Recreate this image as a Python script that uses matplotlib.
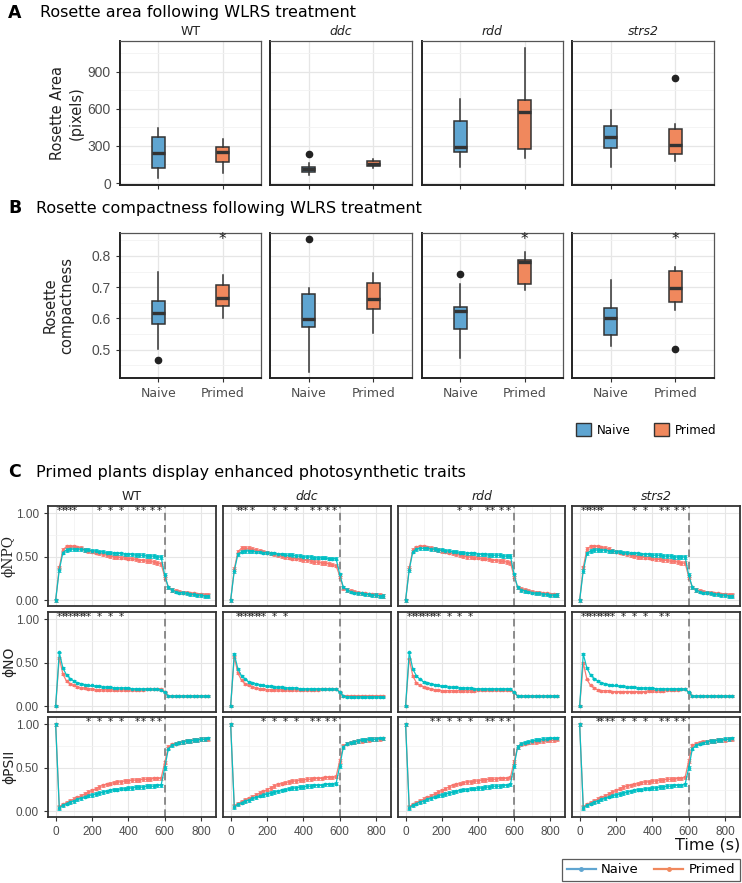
import matplotlib
matplotlib.use("Agg")
import matplotlib.pyplot as plt
from matplotlib.patches import Patch
from matplotlib.lines import Line2D
from matplotlib.ticker import FixedLocator

# ---------------- DATA ----------------
genotypes = ["WT", "ddc", "rdd", "strs2"]
treatments = ["Naive", "Primed"]

# Panel A: rosette area (pixels) box statistics
area_naive_whislo = [40, 65, 130, 130]
area_naive_q1 = [122, 89, 251, 284]
area_naive_med = [243, 113, 292, 373]
area_naive_q3 = [373, 130, 503, 462]
area_naive_whishi = [446, 162, 681, 592]
area_naive_out = [[], [235], [], []]
area_primed_whislo = [81, 122, 203, 178]
area_primed_q1 = [170, 135, 276, 235]
area_primed_med = [251, 155, 576, 308]
area_primed_q3 = [292, 175, 673, 438]
area_primed_whishi = [357, 195, 1095, 478]
area_primed_out = [[], [], [], [851]]

# Panel B: rosette compactness box statistics
comp_naive_whislo = [0.503, 0.430, 0.475, 0.513]
comp_naive_q1 = [0.582, 0.572, 0.566, 0.547]
comp_naive_med = [0.616, 0.597, 0.625, 0.603]
comp_naive_q3 = [0.656, 0.678, 0.638, 0.635]
comp_naive_whishi = [0.749, 0.696, 0.709, 0.722]
comp_naive_out = [[0.466], [0.853], [0.742], []]
comp_primed_whislo = [0.600, 0.553, 0.691, 0.627]
comp_primed_q1 = [0.641, 0.630, 0.709, 0.653]
comp_primed_med = [0.664, 0.662, 0.779, 0.696]
comp_primed_q3 = [0.706, 0.712, 0.786, 0.751]
comp_primed_whishi = [0.738, 0.744, 0.811, 0.763]
comp_primed_out = [[], [], [], [0.503]]
comp_signif = [True, False, True, True]

# Panel C: time courses
time_s = [0, 20, 40, 60, 80, 100, 120, 140, 160, 180, 200, 220, 240, 260, 280,
          300, 320, 340, 360, 380, 400, 420, 440, 460, 480, 500, 520, 540, 560, 580,
          600, 620, 640, 660, 680, 700, 720, 740, 760, 780, 800, 820, 840]

npq_wt_naive = [0.00, 0.35, 0.55, 0.58, 0.59, 0.59, 0.59, 0.59, 0.58, 0.58, 0.57, 0.57, 0.56, 0.56, 0.55,
                0.55, 0.54, 0.54, 0.54, 0.53, 0.53, 0.53, 0.52, 0.52, 0.52, 0.51, 0.51, 0.51, 0.50, 0.50,
                0.29, 0.15, 0.12, 0.10, 0.09, 0.09, 0.08, 0.07, 0.07, 0.06, 0.06, 0.05, 0.05]
npq_wt_primed = [0.00, 0.38, 0.58, 0.62, 0.62, 0.62, 0.61, 0.60, 0.58, 0.57, 0.56, 0.55, 0.54, 0.53, 0.52,
                 0.51, 0.50, 0.50, 0.49, 0.49, 0.48, 0.48, 0.47, 0.46, 0.46, 0.45, 0.45, 0.44, 0.43, 0.42,
                 0.27, 0.15, 0.12, 0.11, 0.10, 0.09, 0.09, 0.08, 0.08, 0.07, 0.07, 0.06, 0.06]
npq_ddc_naive = [0.00, 0.34, 0.53, 0.56, 0.57, 0.57, 0.57, 0.56, 0.56, 0.55, 0.55, 0.54, 0.54, 0.53, 0.53,
                 0.52, 0.52, 0.52, 0.51, 0.51, 0.50, 0.50, 0.50, 0.49, 0.49, 0.49, 0.49, 0.48, 0.48, 0.48,
                 0.30, 0.15, 0.12, 0.10, 0.09, 0.08, 0.08, 0.07, 0.07, 0.06, 0.06, 0.05, 0.05]
npq_ddc_primed = [0.00, 0.36, 0.56, 0.60, 0.60, 0.60, 0.59, 0.58, 0.57, 0.56, 0.55, 0.54, 0.53, 0.52, 0.51,
                  0.50, 0.49, 0.48, 0.48, 0.47, 0.46, 0.46, 0.45, 0.44, 0.44, 0.43, 0.43, 0.42, 0.41, 0.40,
                  0.28, 0.14, 0.12, 0.11, 0.10, 0.09, 0.08, 0.08, 0.07, 0.07, 0.06, 0.06, 0.05]
npq_rdd_naive = [0.00, 0.35, 0.56, 0.59, 0.60, 0.60, 0.60, 0.59, 0.59, 0.58, 0.58, 0.57, 0.57, 0.56, 0.56,
                 0.55, 0.55, 0.54, 0.54, 0.54, 0.53, 0.53, 0.53, 0.52, 0.52, 0.52, 0.52, 0.51, 0.51, 0.51,
                 0.30, 0.15, 0.12, 0.11, 0.10, 0.09, 0.08, 0.08, 0.07, 0.07, 0.06, 0.06, 0.06]
npq_rdd_primed = [0.00, 0.37, 0.58, 0.61, 0.62, 0.62, 0.61, 0.60, 0.59, 0.58, 0.57, 0.56, 0.55, 0.54, 0.53,
                  0.52, 0.51, 0.50, 0.50, 0.49, 0.49, 0.48, 0.48, 0.47, 0.46, 0.46, 0.45, 0.45, 0.44, 0.43,
                  0.28, 0.15, 0.13, 0.12, 0.11, 0.10, 0.09, 0.09, 0.08, 0.08, 0.07, 0.07, 0.06]
npq_strs2_naive = [0.00, 0.34, 0.54, 0.57, 0.58, 0.58, 0.58, 0.58, 0.57, 0.57, 0.56, 0.56, 0.55, 0.55, 0.54,
                   0.54, 0.54, 0.53, 0.53, 0.53, 0.52, 0.52, 0.52, 0.51, 0.51, 0.51, 0.50, 0.50, 0.50, 0.50,
                   0.29, 0.15, 0.12, 0.10, 0.09, 0.09, 0.08, 0.07, 0.07, 0.06, 0.06, 0.05, 0.05]
npq_strs2_primed = [0.00, 0.38, 0.59, 0.62, 0.62, 0.62, 0.61, 0.60, 0.59, 0.57, 0.56, 0.55, 0.54, 0.53, 0.52,
                    0.51, 0.50, 0.50, 0.49, 0.49, 0.48, 0.47, 0.47, 0.46, 0.46, 0.45, 0.45, 0.44, 0.43, 0.43,
                    0.27, 0.15, 0.12, 0.11, 0.10, 0.09, 0.09, 0.08, 0.08, 0.07, 0.07, 0.06, 0.06]

no_wt_naive = [0.00, 0.62, 0.44, 0.36, 0.32, 0.29, 0.27, 0.26, 0.25, 0.24, 0.24, 0.23, 0.23, 0.22, 0.22,
               0.22, 0.21, 0.21, 0.21, 0.21, 0.21, 0.20, 0.20, 0.20, 0.20, 0.20, 0.20, 0.20, 0.20, 0.19,
               0.16, 0.12, 0.12, 0.12, 0.12, 0.12, 0.12, 0.12, 0.12, 0.12, 0.12, 0.12, 0.12]
no_wt_primed = [0.00, 0.56, 0.37, 0.29, 0.26, 0.24, 0.22, 0.21, 0.21, 0.20, 0.20, 0.19, 0.19, 0.19, 0.19,
                0.19, 0.19, 0.19, 0.19, 0.19, 0.19, 0.19, 0.19, 0.19, 0.19, 0.20, 0.20, 0.20, 0.20, 0.20,
                0.17, 0.12, 0.12, 0.12, 0.12, 0.12, 0.12, 0.12, 0.12, 0.12, 0.12, 0.12, 0.12]
no_ddc_naive = [0.00, 0.60, 0.43, 0.35, 0.31, 0.28, 0.27, 0.26, 0.25, 0.24, 0.23, 0.23, 0.22, 0.22, 0.22,
                0.21, 0.21, 0.21, 0.21, 0.20, 0.20, 0.20, 0.20, 0.20, 0.20, 0.20, 0.20, 0.20, 0.20, 0.20,
                0.16, 0.12, 0.11, 0.11, 0.11, 0.11, 0.11, 0.11, 0.11, 0.11, 0.11, 0.11, 0.11]
no_ddc_primed = [0.00, 0.57, 0.38, 0.30, 0.26, 0.24, 0.22, 0.21, 0.20, 0.20, 0.19, 0.19, 0.19, 0.19, 0.19,
                 0.19, 0.19, 0.19, 0.19, 0.19, 0.19, 0.19, 0.19, 0.19, 0.19, 0.20, 0.20, 0.20, 0.20, 0.20,
                 0.17, 0.12, 0.12, 0.12, 0.12, 0.12, 0.12, 0.12, 0.12, 0.12, 0.12, 0.12, 0.12]
no_rdd_naive = [0.00, 0.62, 0.43, 0.35, 0.31, 0.28, 0.27, 0.26, 0.25, 0.24, 0.23, 0.23, 0.22, 0.22, 0.22,
                0.21, 0.21, 0.21, 0.21, 0.20, 0.20, 0.20, 0.20, 0.20, 0.20, 0.20, 0.20, 0.20, 0.20, 0.20,
                0.16, 0.12, 0.12, 0.12, 0.12, 0.12, 0.12, 0.12, 0.12, 0.12, 0.12, 0.12, 0.12]
no_rdd_primed = [0.00, 0.55, 0.35, 0.27, 0.24, 0.22, 0.21, 0.20, 0.19, 0.19, 0.18, 0.18, 0.18, 0.18, 0.18,
                 0.18, 0.18, 0.18, 0.18, 0.18, 0.19, 0.19, 0.19, 0.19, 0.19, 0.19, 0.19, 0.19, 0.19, 0.19,
                 0.16, 0.12, 0.12, 0.12, 0.12, 0.12, 0.12, 0.12, 0.12, 0.12, 0.12, 0.12, 0.12]
no_strs2_naive = [0.00, 0.60, 0.44, 0.36, 0.32, 0.29, 0.27, 0.26, 0.25, 0.24, 0.24, 0.23, 0.23, 0.22, 0.22,
                  0.22, 0.21, 0.21, 0.21, 0.21, 0.21, 0.20, 0.20, 0.20, 0.20, 0.20, 0.20, 0.20, 0.20, 0.20,
                  0.16, 0.12, 0.12, 0.12, 0.12, 0.12, 0.12, 0.12, 0.12, 0.12, 0.12, 0.12, 0.12]
no_strs2_primed = [0.00, 0.50, 0.31, 0.24, 0.21, 0.19, 0.18, 0.18, 0.18, 0.17, 0.17, 0.17, 0.17, 0.17, 0.17,
                   0.17, 0.17, 0.17, 0.17, 0.18, 0.18, 0.18, 0.18, 0.18, 0.19, 0.19, 0.19, 0.19, 0.20, 0.20,
                   0.16, 0.12, 0.12, 0.12, 0.12, 0.12, 0.12, 0.12, 0.12, 0.12, 0.12, 0.12, 0.12]

psii_wt_naive = [1.00, 0.04, 0.07, 0.09, 0.11, 0.12, 0.14, 0.15, 0.17, 0.18, 0.19, 0.20, 0.21, 0.22, 0.23,
                 0.24, 0.25, 0.25, 0.26, 0.26, 0.27, 0.27, 0.28, 0.28, 0.28, 0.29, 0.29, 0.29, 0.30, 0.30,
                 0.50, 0.72, 0.76, 0.78, 0.79, 0.80, 0.81, 0.81, 0.82, 0.82, 0.83, 0.83, 0.84]
psii_wt_primed = [1.00, 0.05, 0.08, 0.10, 0.12, 0.14, 0.16, 0.18, 0.20, 0.22, 0.24, 0.26, 0.28, 0.30, 0.31,
                  0.32, 0.33, 0.34, 0.34, 0.35, 0.35, 0.36, 0.36, 0.36, 0.37, 0.37, 0.37, 0.38, 0.38, 0.38,
                  0.56, 0.74, 0.77, 0.78, 0.79, 0.80, 0.81, 0.81, 0.82, 0.82, 0.83, 0.83, 0.83]
psii_ddc_naive = [1.00, 0.05, 0.08, 0.10, 0.12, 0.13, 0.15, 0.16, 0.18, 0.19, 0.20, 0.21, 0.22, 0.23, 0.24,
                  0.25, 0.26, 0.27, 0.27, 0.28, 0.28, 0.29, 0.29, 0.30, 0.30, 0.30, 0.31, 0.31, 0.31, 0.32,
                  0.52, 0.74, 0.78, 0.79, 0.80, 0.81, 0.82, 0.82, 0.83, 0.83, 0.83, 0.84, 0.84]
psii_ddc_primed = [1.00, 0.06, 0.09, 0.11, 0.13, 0.15, 0.17, 0.19, 0.21, 0.23, 0.25, 0.27, 0.29, 0.31, 0.32,
                   0.33, 0.34, 0.35, 0.35, 0.36, 0.36, 0.37, 0.37, 0.38, 0.38, 0.38, 0.39, 0.39, 0.39, 0.40,
                   0.58, 0.75, 0.78, 0.79, 0.80, 0.81, 0.81, 0.82, 0.82, 0.83, 0.83, 0.83, 0.84]
psii_rdd_naive = [1.00, 0.04, 0.07, 0.09, 0.11, 0.12, 0.14, 0.15, 0.17, 0.18, 0.19, 0.20, 0.21, 0.22, 0.23,
                  0.24, 0.25, 0.25, 0.26, 0.26, 0.27, 0.27, 0.28, 0.28, 0.29, 0.29, 0.29, 0.30, 0.30, 0.31,
                  0.52, 0.74, 0.78, 0.79, 0.80, 0.81, 0.82, 0.82, 0.83, 0.83, 0.84, 0.84, 0.84]
psii_rdd_primed = [1.00, 0.05, 0.08, 0.10, 0.12, 0.14, 0.16, 0.18, 0.20, 0.22, 0.24, 0.26, 0.28, 0.30, 0.31,
                   0.32, 0.33, 0.34, 0.34, 0.35, 0.35, 0.36, 0.36, 0.37, 0.37, 0.37, 0.38, 0.38, 0.38, 0.39,
                   0.57, 0.74, 0.77, 0.78, 0.79, 0.80, 0.80, 0.81, 0.81, 0.82, 0.82, 0.82, 0.83]
psii_strs2_naive = [1.00, 0.04, 0.07, 0.09, 0.11, 0.12, 0.14, 0.15, 0.17, 0.18, 0.19, 0.20, 0.21, 0.22, 0.23,
                    0.24, 0.25, 0.25, 0.26, 0.26, 0.27, 0.27, 0.28, 0.28, 0.29, 0.29, 0.30, 0.30, 0.30, 0.31,
                    0.50, 0.72, 0.76, 0.78, 0.79, 0.80, 0.81, 0.81, 0.82, 0.82, 0.83, 0.83, 0.84]
psii_strs2_primed = [1.00, 0.05, 0.08, 0.10, 0.12, 0.14, 0.16, 0.18, 0.20, 0.22, 0.24, 0.26, 0.28, 0.29, 0.30,
                     0.31, 0.32, 0.33, 0.34, 0.34, 0.35, 0.35, 0.36, 0.36, 0.37, 0.37, 0.37, 0.38, 0.38, 0.39,
                     0.58, 0.76, 0.78, 0.79, 0.80, 0.80, 0.81, 0.81, 0.82, 0.82, 0.82, 0.83, 0.83]

se_npq = 0.02
se_no = 0.01
se_psii = 0.02

# significance asterisks (time points, s)
stars_npq = [[20, 40, 60, 80, 100, 240, 300, 360, 450, 480, 530, 570],
             [40, 60, 80, 120, 240, 300, 360, 450, 490, 530, 570],
             [300, 360, 450, 480, 530, 570],
             [20, 40, 60, 80, 100, 120, 300, 360, 450, 480, 530, 570]]
stars_no = [[20, 40, 60, 80, 100, 120, 140, 160, 180, 240, 300, 360],
            [40, 60, 80, 100, 120, 140, 160, 180, 240, 300],
            [20, 40, 60, 80, 100, 120, 140, 160, 180, 240, 300, 360],
            [20, 40, 60, 80, 100, 120, 140, 160, 180, 240, 300, 360, 450, 480]]
stars_psii = [[180, 240, 300, 360, 450, 480, 530, 570],
              [180, 240, 300, 360, 450, 480, 530, 570],
              [150, 180, 240, 300, 360, 450, 480, 530, 570],
              [100, 120, 150, 180, 240, 300, 360, 450, 480, 530, 570]]

# ---------------- STYLE ----------------
W, H = 742, 883
fig = plt.figure(figsize=(W / 100, H / 100), dpi=100)
fig.patch.set_facecolor("white")

col_naive_box = "#5FA5D1"
col_primed_box = "#F0885D"
col_naive_line = "#00BFC4"
col_primed_line = "#F8766D"
grid_major = "#E6E6E6"
grid_minor = "#F2F2F2"
tick_col = "#4D4D4D"
SANS = "DejaVu Sans"
NUM = "Liberation Sans"


def add_ax(x0, y0, x1, y1):
    return fig.add_axes([x0 / W, 1 - y1 / H, (x1 - x0) / W, (y1 - y0) / H])


def style_box_axes(ax):
    ax.set_facecolor("white")
    for s in ["top", "right"]:
        ax.spines[s].set_color("#555555")
        ax.spines[s].set_linewidth(0.9)
    for s in ["left", "bottom"]:
        ax.spines[s].set_color("#222222")
        ax.spines[s].set_linewidth(1.4)
    ax.grid(True, which="major", color=grid_major, lw=0.9)
    ax.grid(True, which="minor", color=grid_minor, lw=0.6)
    ax.set_axisbelow(True)
    ax.tick_params(which="major", length=3, width=0.8, color="#333333", labelcolor=tick_col)
    ax.tick_params(which="minor", length=0)


def draw_boxes(ax, i, whislo, q1, med, q3, whishi, out):
    stats = []
    for k in range(2):
        stats.append(dict(whislo=whislo[k][i], q1=q1[k][i], med=med[k][i], q3=q3[k][i],
                          whishi=whishi[k][i], fliers=out[k][i]))
    bp = ax.bxp(stats, positions=[1, 2], widths=0.2, patch_artist=True, showcaps=False,
                boxprops=dict(edgecolor="#333333", linewidth=1.1),
                whiskerprops=dict(color="#333333", linewidth=1.1),
                medianprops=dict(color="#333333", linewidth=2.4),
                flierprops=dict(marker="o", markerfacecolor="#222222", markeredgecolor="#222222",
                                markersize=4.5))
    for patch, c in zip(bp["boxes"], [col_naive_box, col_primed_box]):
        patch.set_facecolor(c)
    ax.set_xlim(0.4, 2.6)
    ax.xaxis.set_major_locator(FixedLocator([1, 2]))


box_x = [(120, 261), (270, 412), (422, 563), (572, 714)]

# ---------------- PANEL A ----------------
fig.text(8 / W, 1 - 13 / H, "A", fontsize=12.5, fontweight="bold", va="center", family=SANS)
fig.text(40 / W, 1 - 13 / H, "Rosette area following WLRS treatment", fontsize=11.5, va="center", family=SANS)
for i, g in enumerate(genotypes):
    x0, x1 = box_x[i]
    ax = add_ax(x0, 41, x1, 185)
    style_box_axes(ax)
    draw_boxes(ax, i,
               [area_naive_whislo, area_primed_whislo], [area_naive_q1, area_primed_q1],
               [area_naive_med, area_primed_med], [area_naive_q3, area_primed_q3],
               [area_naive_whishi, area_primed_whishi], [area_naive_out, area_primed_out])
    ax.set_ylim(-16, 1150)
    ax.yaxis.set_major_locator(FixedLocator([0, 300, 600, 900]))
    ax.yaxis.set_minor_locator(FixedLocator([150, 450, 750, 1050]))
    ax.set_xticklabels([])
    if i == 0:
        ax.set_yticklabels(["0", "300", "600", "900"], fontsize=10, family=NUM)
        ax.set_ylabel("Rosette Area\n(pixels)", fontsize=10.5, family=SANS, color="#222222",
                      linespacing=1.35)
        ax.yaxis.set_label_coords((84 - 120) / 141, 0.5)
    else:
        ax.tick_params(axis="y", length=0)
        ax.set_yticklabels([])
    ax.set_title(g, fontsize=9, family=SANS, style="normal" if g == "WT" else "italic",
                 color="#222222", pad=4)

# ---------------- PANEL B ----------------
fig.text(8 / W, 1 - 208 / H, "B", fontsize=12.5, fontweight="bold", va="center", family=SANS)
fig.text(36 / W, 1 - 209 / H, "Rosette compactness following WLRS treatment", fontsize=11.5, va="center",
         family=SANS)
for i, g in enumerate(genotypes):
    x0, x1 = box_x[i]
    ax = add_ax(x0, 233, x1, 378)
    style_box_axes(ax)
    draw_boxes(ax, i,
               [comp_naive_whislo, comp_primed_whislo], [comp_naive_q1, comp_primed_q1],
               [comp_naive_med, comp_primed_med], [comp_naive_q3, comp_primed_q3],
               [comp_naive_whishi, comp_primed_whishi], [comp_naive_out, comp_primed_out])
    ax.set_ylim(0.41, 0.873)
    ax.yaxis.set_major_locator(FixedLocator([0.5, 0.6, 0.7, 0.8]))
    ax.yaxis.set_minor_locator(FixedLocator([0.45, 0.55, 0.65, 0.75, 0.85]))
    ax.set_xticklabels(treatments, fontsize=9, family=SANS)
    if comp_signif[i]:
        ax.text(2, 0.852, "*", ha="center", va="center", fontsize=11, color="#222222")
    if i == 0:
        ax.set_yticklabels(["0.5", "0.6", "0.7", "0.8"], fontsize=10, family=NUM)
        ax.set_ylabel("Rosette\ncompactness", fontsize=10.5, family=SANS, color="#222222",
                      linespacing=1.15)
        ax.yaxis.set_label_coords((74 - 120) / 141, 0.5)
    else:
        ax.tick_params(axis="y", length=0)
        ax.set_yticklabels([])

leg_b = [Patch(facecolor=col_naive_box, edgecolor="#333333", linewidth=1.0),
         Patch(facecolor=col_primed_box, edgecolor="#333333", linewidth=1.0)]
fig.legend(leg_b, treatments, loc="center left", bbox_to_anchor=(568 / W, 1 - 430 / H), ncol=2,
           frameon=False, prop=dict(family=SANS, size=8.6), handlelength=1.2, handleheight=1.2,
           columnspacing=2.0, handletextpad=0.5, borderpad=0.2)

# ---------------- PANEL C ----------------
fig.text(8 / W, 1 - 472 / H, "C", fontsize=12.5, fontweight="bold", va="center", family=SANS)
fig.text(36 / W, 1 - 473 / H, "Primed plants display enhanced photosynthetic traits", fontsize=11.5,
         va="center", family=SANS)

c_x = [(48, 216), (223, 391), (398, 565), (572, 740)]
c_y = [(506, 606), (612, 712), (717, 817)]
metrics = [
    ("ϕNPQ", [npq_wt_naive, npq_ddc_naive, npq_rdd_naive, npq_strs2_naive],
     [npq_wt_primed, npq_ddc_primed, npq_rdd_primed, npq_strs2_primed], se_npq, stars_npq, "DejaVu Serif"),
    ("ϕNO", [no_wt_naive, no_ddc_naive, no_rdd_naive, no_strs2_naive],
     [no_wt_primed, no_ddc_primed, no_rdd_primed, no_strs2_primed], se_no, stars_no, SANS),
    ("ϕPSII", [psii_wt_naive, psii_ddc_naive, psii_rdd_naive, psii_strs2_naive],
     [psii_wt_primed, psii_ddc_primed, psii_rdd_primed, psii_strs2_primed], se_psii, stars_psii, SANS),
]

for r, (lab, naive_list, primed_list, se, stars, lab_font) in enumerate(metrics):
    for i, g in enumerate(genotypes):
        x0, x1 = c_x[i]
        y0, y1 = c_y[r]
        ax = add_ax(x0, y0, x1, y1)
        ax.set_facecolor("white")
        for s in ax.spines.values():
            s.set_color("#333333")
            s.set_linewidth(1.3)
        ax.grid(True, which="major", color=grid_major, lw=0.8)
        ax.grid(True, which="minor", color=grid_minor, lw=0.5)
        ax.set_axisbelow(True)
        for vals, col in [(primed_list[i], col_primed_line), (naive_list[i], col_naive_line)]:
            ax.errorbar(time_s, vals, yerr=se, color=col, lw=0.9, marker="o", ms=1.6,
                        elinewidth=0.5, capsize=1.3, capthick=0.6, alpha=0.95)
        ax.axvline(600, color="#707070", lw=1.1, ls=(0, (5, 3)))
        for t in stars[i]:
            ax.text(t, 1.03, "*", ha="center", va="center", fontsize=7.5, color="#222222")
        ax.set_xlim(-42, 882)
        ax.set_ylim(-0.065, 1.085)
        ax.xaxis.set_major_locator(FixedLocator([0, 200, 400, 600, 800]))
        ax.xaxis.set_minor_locator(FixedLocator([100, 300, 500, 700]))
        ax.yaxis.set_major_locator(FixedLocator([0, 0.5, 1.0]))
        ax.yaxis.set_minor_locator(FixedLocator([0.25, 0.75]))
        ax.tick_params(which="major", length=3, width=0.8, color="#333333", labelcolor=tick_col,
                       labelsize=8)
        ax.tick_params(which="minor", length=0)
        if r == 2:
            ax.set_xticklabels(["0", "200", "400", "600", "800"], family=NUM, fontsize=8.5)
        else:
            ax.tick_params(axis="x", length=0)
            ax.set_xticklabels([])
        if i == 0:
            ax.set_yticklabels(["0.00", "0.50", "1.00"], family=NUM, fontsize=8.5)
            ax.set_ylabel(lab, fontsize=10, family=lab_font, color="#222222")
            ax.yaxis.set_label_coords((16 - 48) / 168, 0.5)
        else:
            ax.tick_params(axis="y", length=0)
            ax.set_yticklabels([])
        if r == 0:
            ax.set_title(g, fontsize=9, family=SANS, style="normal" if g == "WT" else "italic",
                         color="#222222", pad=4)

fig.text(740 / W, 1 - 849 / H, "Time (s)", fontsize=11.5, ha="right", va="baseline", family=SANS,
         color="#111111")

leg_c = [Line2D([0], [0], color=col_naive_box, lw=1.6, marker="o", ms=2.5),
         Line2D([0], [0], color=col_primed_box, lw=1.6, marker="o", ms=2.5)]
lg = fig.legend(leg_c, treatments, loc="lower right", bbox_to_anchor=(740 / W, 1 - 881 / H), ncol=2,
                frameon=True, fancybox=False, edgecolor="#333333", prop=dict(family=SANS, size=9.5),
                handlelength=2.2, columnspacing=1.2, handletextpad=0.4, borderpad=0.35,
                borderaxespad=0.0)
lg.get_frame().set_linewidth(0.9)

fig.savefig("out.png", dpi=100, facecolor="white")
